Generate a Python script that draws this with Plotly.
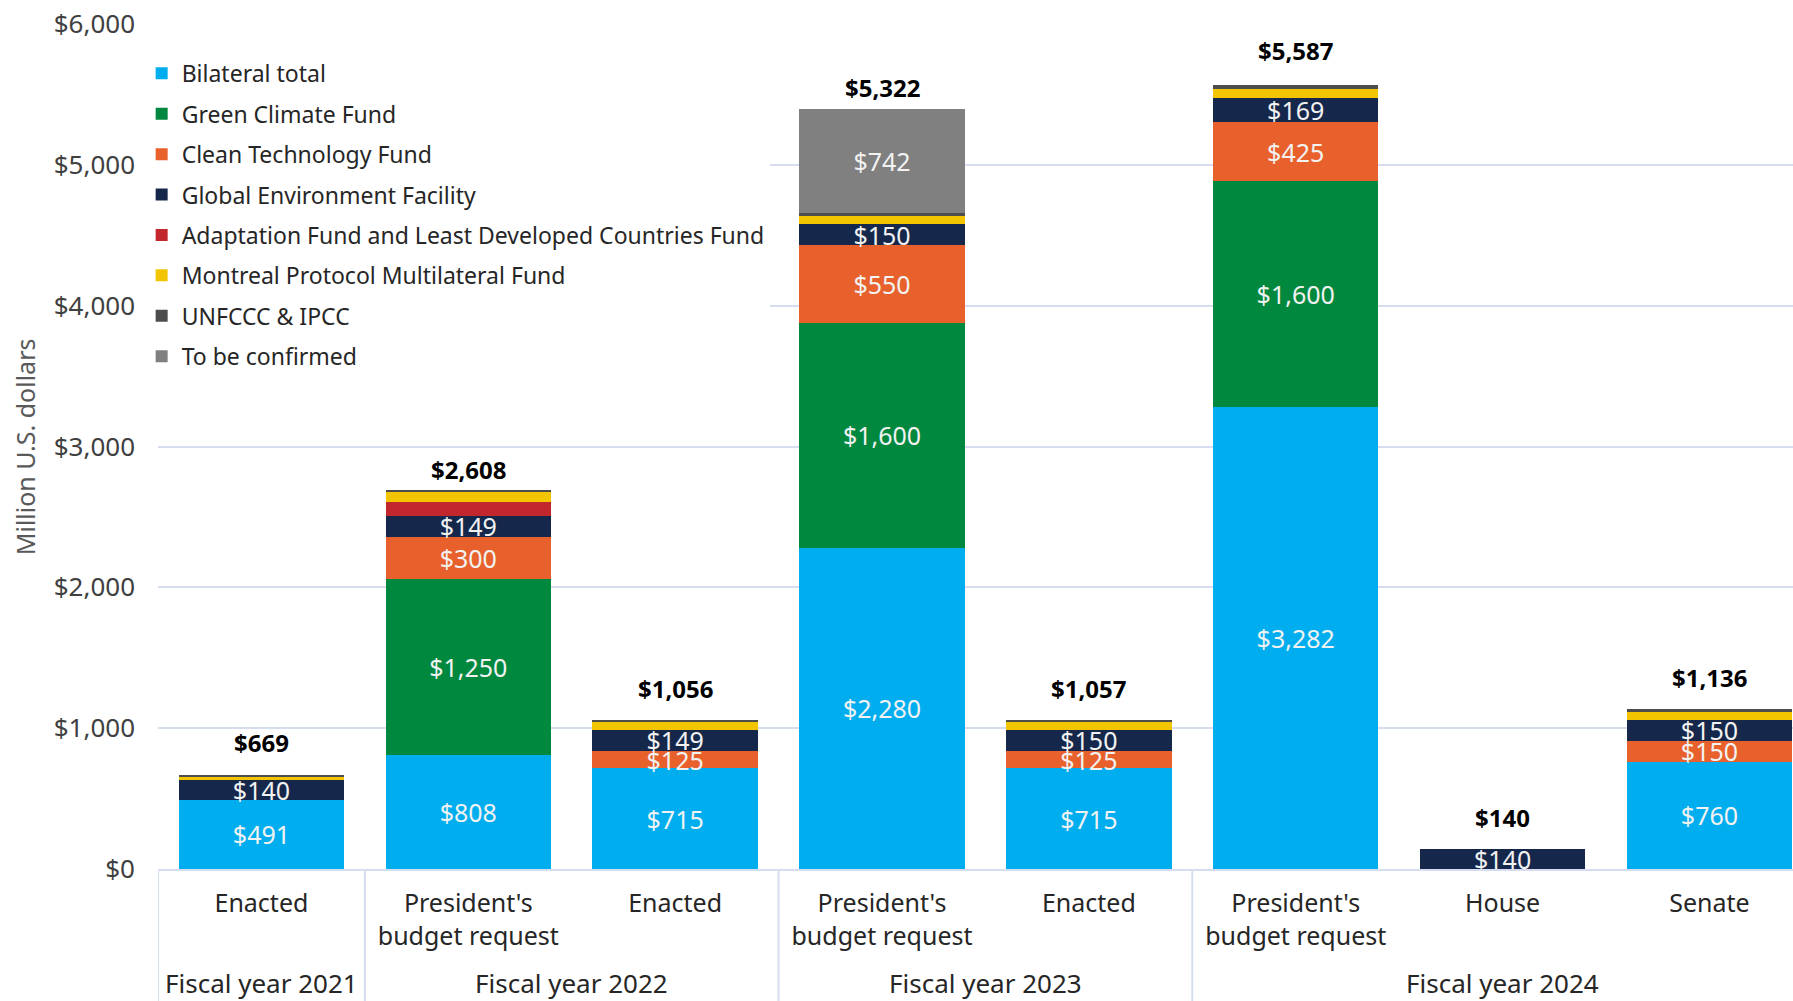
import plotly.graph_objects as go

# ---------------- data ----------------
sub_labels = ["Enacted", "President's<br>budget request", "Enacted",
              "President's<br>budget request", "Enacted",
              "President's<br>budget request", "House", "Senate"]
fiscal_years = ["Fiscal year 2021", "Fiscal year 2022", "Fiscal year 2023", "Fiscal year 2024"]
year_of_bar = [0, 1, 1, 2, 2, 3, 3, 3]

bilateral = [491, 808, 715, 2280, 715, 3282, 0, 760]
gcf = [0, 1250, 0, 1600, 0, 1600, 0, 0]
ctf = [0, 300, 125, 550, 125, 425, 0, 150]
gef = [140, 149, 149, 150, 150, 169, 140, 150]
adaptation = [0, 101, 0, 0, 0, 0, 0, 0]
montreal = [28, 68, 52, 60, 52, 62, 0, 58]
unfccc = [10, 15, 15, 16, 15, 28, 0, 18]
tbc = [0, 0, 0, 742, 0, 0, 0, 0]
totals = [669, 2608, 1056, 5322, 1057, 5587, 140, 1136]

y_ticks = [0, 1000, 2000, 3000, 4000, 5000, 6000]

series = [
    ("Bilateral total", bilateral, "#00AEEF", True),
    ("Green Climate Fund", gcf, "#00883E", True),
    ("Clean Technology Fund", ctf, "#E8612C", True),
    ("Global Environment Facility", gef, "#15284B", True),
    ("Adaptation Fund and Least Developed Countries Fund", adaptation, "#C1272D", False),
    ("Montreal Protocol Multilateral Fund", montreal, "#F2C500", False),
    ("UNFCCC & IPCC", unfccc, "#4D4D4D", False),
    ("To be confirmed", tbc, "#808080", True),
]

FONT = "Noto Sans"
x = list(range(len(sub_labels)))

fig = go.Figure()
for name, vals, color, labelled in series:
    yv = [v if v else None for v in vals]
    txt = [f"${v:,.0f}" if (v and labelled) else "" for v in vals]
    fig.add_trace(go.Bar(
        x=x, y=yv, name=name, legendgroup=name,
        marker=dict(color=color, line=dict(width=0)),
        width=0.8,
        text=txt, textposition="inside", insidetextanchor="middle",
        constraintext="none",
        textfont=dict(family=FONT, size=25, color="#F2F2F2"),
        hoverinfo="name+y",
    ))

# total labels
for i, t in enumerate(totals):
    fig.add_annotation(x=i, y=t, xref="x", yref="y", text=f"<b>${t:,.0f}</b>",
                       showarrow=False, yanchor="middle", yshift=32,
                       font=dict(family=FONT, size=24, color="#000000"))

# fiscal year group labels
for g, fy in enumerate(fiscal_years):
    idx = [i for i, yb in enumerate(year_of_bar) if yb == g]
    cx = sum(idx) / len(idx)
    fig.add_annotation(x=cx, y=-0.1355, xref="x", yref="paper", text=fy,
                       showarrow=False, yanchor="middle",
                       font=dict(family=FONT, size=26, color="#262626"))

# group divider lines
for g in range(len(fiscal_years)):
    first = min(i for i, yb in enumerate(year_of_bar) if yb == g)
    fig.add_shape(type="line", xref="x", yref="paper", x0=first - 0.5, x1=first - 0.5,
                  y0=0, y1=-0.17, line=dict(color="#D6DDF0", width=2), layer="below")

# y axis title
fig.add_annotation(x=-0.0815, y=0.5, xref="paper", yref="paper", text="Million U.S. dollars",
                   textangle=-90, showarrow=False, xanchor="center", yanchor="middle",
                   font=dict(family=FONT, size=25, color="#595959"))

fig.update_layout(
    width=1793, height=1001,
    margin=dict(l=158, r=0, t=24, b=132, autoexpand=False),
    barmode="stack", bargap=0.2,
    plot_bgcolor="white", paper_bgcolor="white",
    font=dict(family=FONT, color="#404040"),
    legend=dict(x=-0.010, y=0.967, xanchor="left", yanchor="top",
                traceorder="grouped", tracegroupgap=7.5,
                bgcolor="white", borderwidth=0,
                font=dict(family=FONT, size=23, color="#262626"),
                itemsizing="constant"),
    xaxis=dict(range=[-0.5, 7.404], tickmode="array", tickvals=x, ticktext=sub_labels,
               showgrid=False, zeroline=False, showline=True, linecolor="#D6DDF0", linewidth=2,
               ticks="", tickfont=dict(family=FONT, size=25, color="#262626"),
               ticklabelstandoff=11, fixedrange=True),
    yaxis=dict(range=[0, 6000], tickmode="array", tickvals=y_ticks,
               ticktext=[f"${v:,.0f}" for v in y_ticks],
               showgrid=True, gridcolor="#D6DDF0", gridwidth=2, zeroline=False,
               showline=False, ticks="", ticklabelstandoff=22,
               tickfont=dict(family=FONT, size=26, color="#404040"), fixedrange=True),
)

fig.write_html("out.html", config={"displayModeBar": False},
               post_script="document.body.style.margin='0';document.body.style.overflow='hidden';")
